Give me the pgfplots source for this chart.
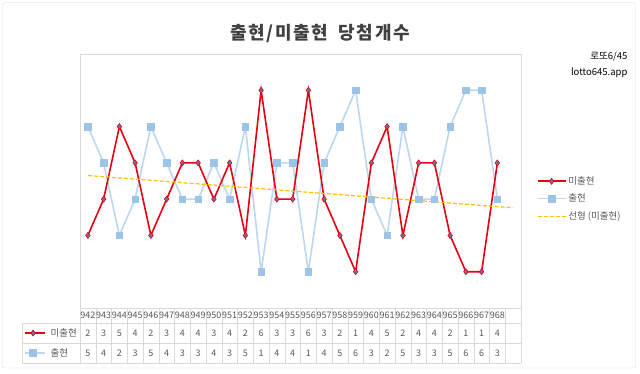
\documentclass[border=0pt]{standalone}
\usepackage{fontspec}
\setmainfont{Noto Sans CJK KR}
\usepackage{pgfplots}
\pgfplotsset{compat=1.18}
\usepackage{pgfplotstable}
\definecolor{redl}{RGB}{230,0,18}
\definecolor{mfill}{RGB}{112,112,160}
\definecolor{bluel}{RGB}{189,215,238}
\definecolor{bluem}{RGB}{157,195,230}
\definecolor{trendc}{RGB}{255,192,0}
\definecolor{txt}{RGB}{89,89,89}
\definecolor{ttl}{RGB}{64,64,64}
\definecolor{gridc}{RGB}{217,217,217}

\pgfplotstableread{
i num a b
0 942 2 5
1 943 3 4
2 944 5 2
3 945 4 3
4 946 2 5
5 947 3 4
6 948 4 3
7 949 4 3
8 950 3 4
9 951 4 3
10 952 2 5
11 953 6 1
12 954 3 4
13 955 3 4
14 956 6 1
15 957 3 4
16 958 2 5
17 959 1 6
18 960 4 3
19 961 5 2
20 962 2 5
21 963 4 3
22 964 4 3
23 965 2 5
24 966 1 6
25 967 1 6
26 968 4 3
}\data

\begin{document}
\begin{tikzpicture}
\begin{scope}[x=1pt,y=1pt]
\useasboundingbox (0,0) rectangle (640,373);
\draw[gridc, rounded corners=2pt] (2.5,5) rectangle (635.5,370.5);
\node[font=\fontsize{18}{21}\selectfont\bfseries\addfontfeatures{LetterSpace=9}, text=ttl] at (320,339) {출현/미출현\hspace{5pt} 당첨개수};
\node[font=\fontsize{9.5}{12}\selectfont, anchor=east, text=black] at (631,316) {로또6/45};
\node[font=\fontsize{9.5}{12}\selectfont, anchor=east, text=black] at (631,300) {lotto645.app};
% table grid
\draw[gridc] (80,65) -- (521,65);
\foreach \yy in {50,30,10} \draw[gridc] (22,\yy) -- (521,\yy);
\draw[gridc] (22,10) -- (22,50);
\foreach \k in {0,...,28} \draw[gridc] (80+\k*15.75,10) -- ++(0,55);
\node[font=\fontsize{9.5}{11}\selectfont, anchor=west, text=txt] at (47,40) {미출현};
\node[font=\fontsize{9.5}{11}\selectfont, anchor=west, text=txt] at (47,20) {출현};
\end{scope}
\begin{axis}[
  at={(80pt,65pt)}, anchor=south west, scale only axis,
  width=441pt, height=254pt,
  xmin=-0.5, xmax=27.5, ymin=0, ymax=7,
  xtick=\empty, ytick=\empty,
  axis line style={gridc},
  clip=false,
  legend style={at={(1.033,0.53)}, anchor=north west, draw=none, fill=none,
    font=\fontsize{9.5}{11}\selectfont, text=txt, row sep=4pt, inner sep=1pt,
    nodes={inner xsep=2pt}},
  legend cell align=left,
  legend image code/.code={\draw[mark repeat=2,mark phase=2,#1] plot coordinates {(0pt,0pt)(14pt,0pt)(28pt,0pt)};},
]
\addplot[bluel, line width=1.6pt, mark=square*, mark size=3.2pt,
  mark options={fill=bluem, draw=bluem, line width=0.4pt}, forget plot]
  table[x=i, y=b] {\data};
\addplot[redl, line width=1.6pt, mark=diamond*, mark size=3pt,
  mark options={fill=mfill, draw=redl, line width=0.6pt}]
  table[x=i, y=a] {\data};
\addlegendentry{미출현}
\addlegendimage{bluel, line width=1.6pt, mark=square*, mark size=3.2pt,
  mark options={fill=bluem, draw=bluem, line width=0.4pt}}
\addlegendentry{출현}
\addplot[trendc, line width=1.2pt, dash pattern=on 4pt off 2pt] coordinates {(0,3.651) (27,2.761)};
\addlegendentry{선형 (미출현)}
% table values
\addplot[draw=none, mark=none, point meta=explicit symbolic, nodes near coords={\pgfplotspointmeta},
  every node near coord/.style={anchor=center, font=\fontsize{9}{10}\selectfont, text=txt}, forget plot]
  table[x=i, y expr=-0.207, meta=num] {\data};
\addplot[draw=none, mark=none, point meta=explicit symbolic, nodes near coords={\pgfplotspointmeta},
  every node near coord/.style={anchor=center, font=\fontsize{9}{10}\selectfont, text=txt}, forget plot]
  table[x=i, y expr=-0.689, meta=a] {\data};
\addplot[draw=none, mark=none, point meta=explicit symbolic, nodes near coords={\pgfplotspointmeta},
  every node near coord/.style={anchor=center, font=\fontsize{9}{10}\selectfont, text=txt}, forget plot]
  table[x=i, y expr=-1.240, meta=b] {\data};
% table legend keys
\addplot[redl, line width=1.6pt, mark=diamond*, mark size=3pt, mark indices={2},
  mark options={fill=mfill, draw=redl, line width=0.6pt}, forget plot]
  coordinates {(-3.99,-0.689) (-3.48,-0.689) (-2.72,-0.689)};
\addplot[bluel, line width=1.6pt, mark=square*, mark size=3pt, mark indices={2},
  mark options={fill=bluem, draw=bluem}, forget plot]
  coordinates {(-3.99,-1.240) (-3.48,-1.240) (-2.72,-1.240)};
\end{axis}
\end{tikzpicture}
\end{document}
